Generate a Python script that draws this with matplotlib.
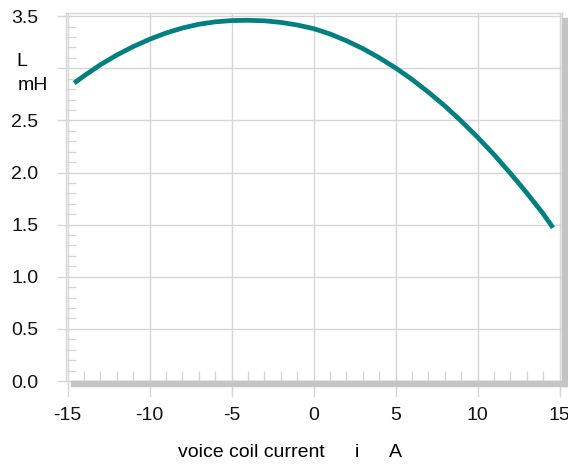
import matplotlib
matplotlib.use("Agg")
import matplotlib.pyplot as plt
from matplotlib.patches import Rectangle
from matplotlib.ticker import MultipleLocator

plt.rcParams['font.family'] = ['Liberation Sans', 'DejaVu Sans']
plt.rcParams['axes.unicode_minus'] = False

# voice coil current (A) and inductance L(i) (mH)
current = [-14.6, -14, -13, -12, -11, -10, -9, -8, -7, -6, -5, -4, -3, -2, -1,
           0, 1, 2, 3, 4, 5, 6, 7, 8, 9, 10, 11, 12, 13, 14, 14.6]
inductance = [2.858, 2.927, 3.034, 3.127, 3.208, 3.278, 3.338, 3.386, 3.422,
              3.445, 3.457, 3.460, 3.455, 3.440, 3.415, 3.380, 3.329, 3.264,
              3.189, 3.101, 3.003, 2.893, 2.771, 2.639, 2.494, 2.339, 2.172,
              1.993, 1.804, 1.605, 1.470]

x_ticks = [-15, -10, -5, 0, 5, 10, 15]
y_ticks = [0.0, 0.5, 1.0, 1.5, 2.0, 2.5, 3.0, 3.5]
# the 3.0 slot carries the axis unit label instead of a number
y_tick_labels = ['0.0', '0.5', '1.0', '1.5', '2.0', '2.5', '', '3.5']

W, H = 568, 465
fs = 14
fig = plt.figure(figsize=(W / 100, H / 100), dpi=100)
ax = fig.add_axes([66 / W, 1 - 381 / H, (562 - 66) / W, (381 - 13) / H])

grid_c = '#d6d6d6'
ax.plot(current, inductance, color='#008080', lw=3.4, solid_capstyle='butt', zorder=3)

ax.set_xlim(-15.1, 15.15)
ax.set_ylim(0.0, 3.53)
ax.set_xticks(x_ticks)
ax.set_xticklabels([str(v) for v in x_ticks])
ax.set_yticks(y_ticks)
ax.set_yticklabels(y_tick_labels)
ax.xaxis.set_minor_locator(MultipleLocator(1))
ax.yaxis.set_minor_locator(MultipleLocator(0.1))
ax.grid(True, which='major', color=grid_c, lw=1.0)

ax.tick_params(axis='x', which='major', direction='out', length=11.5, width=1.0,
               color=grid_c, pad=7.5, labelsize=fs, labelcolor='#111111')
ax.tick_params(axis='y', which='major', direction='out', length=6.5, width=1.0,
               color=grid_c, pad=13.5, labelsize=fs, labelcolor='#111111')
ax.tick_params(axis='both', which='minor', direction='in', length=7, width=0.9,
               color=grid_c)

for s in ax.spines.values():
    s.set_color(grid_c)
    s.set_linewidth(1.0)

# drop shadow along the right and bottom edges of the frame
shadow = '#c4c4c4'
fig.patches.append(Rectangle((562 / W, 1 - 386 / H), 6 / W, (386 - 18) / H,
                             transform=fig.transFigure, color=shadow, zorder=0))
fig.patches.append(Rectangle((71 / W, 1 - 386 / H), (568 - 71) / W, 5 / H,
                             transform=fig.transFigure, color=shadow, zorder=0))

fig.text(22 / W, 1 - 62 / H, 'L', fontsize=fs, ha='center', va='center')
fig.text(33 / W, 1 - 86 / H, 'mH', fontsize=fs, ha='center', va='center')

fig.text(251 / W, 1 - 452 / H, 'voice coil current', fontsize=fs, ha='center', va='center')
fig.text(357 / W, 1 - 452 / H, 'i', fontsize=fs, ha='center', va='center')
fig.text(395 / W, 1 - 452 / H, 'A', fontsize=fs, ha='center', va='center')

fig.savefig('out.png', dpi=100)
